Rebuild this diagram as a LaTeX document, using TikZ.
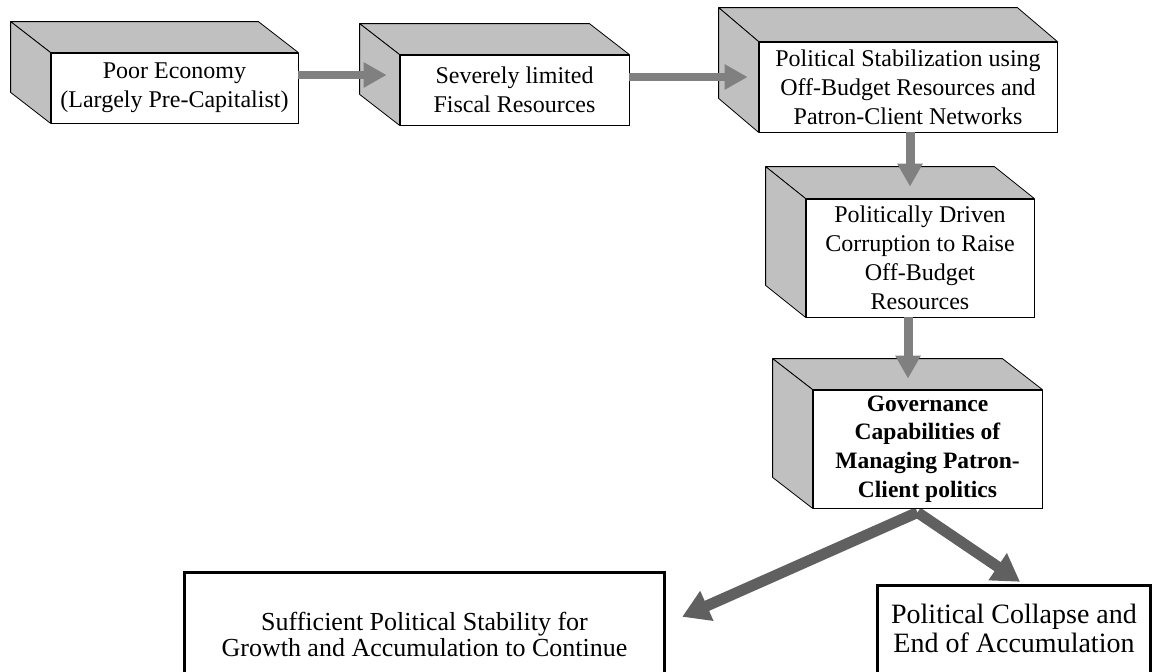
\documentclass[tikz,border=0pt]{standalone}
\usepackage{fontspec}
\setmainfont{Liberation Serif}
\usetikzlibrary{arrows.meta,calc,backgrounds}
\definecolor{silverface}{RGB}{192,192,192}
\definecolor{arrgray}{RGB}{128,128,128}
\definecolor{arrdark}{RGB}{96,96,96}
\begin{document}
\begin{tikzpicture}[x=1pt,y=-1pt,
  front/.style={draw=black, line width=0.8pt, fill=white, align=center, inner sep=0pt,
    font=\fontsize{24}{29}\selectfont},
  side/.style={draw=black, line width=0.8pt, fill=silverface, line join=round},
  harrow/.style={draw=arrgray, line width=8pt, -{Triangle[length=23pt,width=24pt]}},
  darrow/.style={draw=arrdark, line width=11pt, -{Triangle[length=27pt,width=31pt]}},
  result/.style={align=center, inner sep=0pt, minimum width=#1},
  rim/.style={draw=black, line width=3pt, line join=miter}
]
\useasboundingbox (0,0) rectangle (1154,672);

% front faces
\node[front, minimum width=247pt, minimum height=70pt] (b1) at (174.5,88)
  {Poor Economy\\(Largely Pre-Capitalist)};
\node[front, minimum width=229pt, minimum height=70pt] (b2) at (514.5,90)
  {Severely limited\\Fiscal Resources};
\node[front, minimum width=298pt, minimum height=90pt] (b3) at (908,87)
  {Political Stabilization using\\Off-Budget Resources and\\Patron-Client Networks};
\node[front, minimum width=228pt, minimum height=118pt] (b4) at (920,258)
  {Politically Driven\\Corruption to Raise\\Off-Budget\\Resources};
\node[front, minimum width=229pt, minimum height=118pt,
  font=\fontsize{23.5}{28.7}\selectfont\bfseries] (b5) at (927.5,449)
  {Governance\\Capabilities of\\Managing Patron-\\Client politics};

% result boxes (bottoms run off the page)
\node[result=479pt, minimum height=123pt, font=\fontsize{26}{26}\selectfont] (b6) at (424.5,634.5)
  {Sufficient Political Stability for\\Growth and Accumulation to Continue};
\node[result=272pt, minimum height=84pt, font=\fontsize{28}{29}\selectfont] (b7) at (1014,628)
  {Political Collapse and\\End of Accumulation};
\draw[rim] ($(b6.south west)+(0,30)$) |- (b6.north east) -- ($(b6.south east)+(0,30)$);
\draw[rim] ($(b7.south west)+(0,30)$) |- (b7.north east) -- ($(b7.south east)+(0,30)$);

\begin{scope}[on background layer]
  \foreach \n/\dy in {b1/31, b2/31, b3/34, b4/32, b5/31}{
    \draw[side] (\n.north west) -- ++(-40,-\dy) -- ($(\n.north east)+(-40,-\dy)$)
      -- (\n.north east) -- cycle;
    \draw[side] (\n.north west) -- ++(-40,-\dy) -- ($(\n.south west)+(-40,-\dy)$)
      -- (\n.south west) -- cycle;
  }
  % diverging arrows start under the last box
  \draw[darrow] ($(b5.south)+(-10,4)$) -- ($(b6.north east)+(18,44)$);
  \draw[darrow] ($(b5.south)+(-10,4)$) -- ($(b7.north)+(6,-4)$);
\end{scope}

% connectors
\draw[harrow] ($(b1.east)+(0,-13)$) -- ($(b2.west)+(-13,-15)$);
\draw[harrow] ($(b2.east)+(0,-13)$) -- ($(b3.west)+(-11,-10)$);
\draw[harrow, line width=9pt] ($(b3.south)+(2,0)$) -- ($(b4.north)+(-10,-12)$);
\draw[harrow, line width=9pt] ($(b4.south)+(-12,0)$) -- ($(b5.north)+(-19.5,-11)$);
\end{tikzpicture}
\end{document}
